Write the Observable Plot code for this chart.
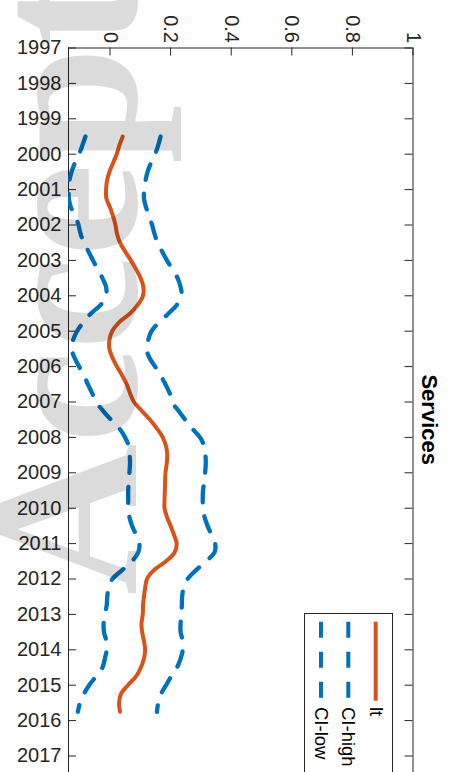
<!DOCTYPE html>
<html>
<head>
<meta charset="utf-8">
<script src="https://cdn.jsdelivr.net/npm/d3@7"></script>
<script src="https://cdn.jsdelivr.net/npm/@observablehq/plot@0.6"></script>
<style>
  html, body { margin: 0; padding: 0; background: #fff; overflow: hidden; }
</style>
</head>
<body>
<div id="chart"></div>
<script>
// ---- data ----
const title = "Services";
const seriesNames = ["lt", "CI-high", "CI-low"];
const yearTicks = [1997, 1998, 1999, 2000, 2001, 2002, 2003, 2004, 2005, 2006, 2007,
                   2008, 2009, 2010, 2011, 2012, 2013, 2014, 2015, 2016, 2017];
const valueTicks = [0, 0.2, 0.4, 0.6, 0.8, 1];
const valueTickLabels = ["0", "0.2", "0.4", "0.6", "0.8", "1"];
const watermarkText = "Accepted Article";

const years = [1999.5, 1999.75,
  2000, 2000.25, 2000.5, 2000.75, 2001, 2001.25, 2001.5, 2001.75,
  2002, 2002.25, 2002.5, 2002.75, 2003, 2003.25, 2003.5, 2003.75,
  2004, 2004.25, 2004.5, 2004.75, 2005, 2005.25, 2005.5, 2005.75,
  2006, 2006.25, 2006.5, 2006.75, 2007, 2007.25, 2007.5, 2007.75,
  2008, 2008.25, 2008.5, 2008.75, 2009, 2009.25, 2009.5, 2009.75,
  2010, 2010.25, 2010.5, 2010.75, 2011, 2011.25, 2011.5, 2011.75,
  2012, 2012.25, 2012.5, 2012.75, 2013, 2013.25, 2013.5, 2013.75,
  2014, 2014.25, 2014.5, 2014.75, 2015, 2015.25, 2015.5, 2015.75];

const lt = [0.042, 0.031,
  0.022, 0.010, -0.002, -0.010, -0.013, -0.012, 0.000, 0.010,
  0.018, 0.023, 0.033, 0.050, 0.069, 0.086, 0.101, 0.110,
  0.109, 0.092, 0.066, 0.030, 0.007, -0.002, -0.002, 0.008,
  0.023, 0.040, 0.055, 0.066, 0.079, 0.105, 0.132, 0.155,
  0.174, 0.185, 0.189, 0.187, 0.183, 0.182, 0.181, 0.180,
  0.180, 0.188, 0.200, 0.211, 0.220, 0.213, 0.185, 0.145,
  0.122, 0.116, 0.112, 0.109, 0.108, 0.104, 0.106, 0.112,
  0.116, 0.112, 0.102, 0.086, 0.059, 0.036, 0.030, 0.033];

const ciHigh = [0.167, 0.159,
  0.149, 0.135, 0.124, 0.117, 0.113, 0.112, 0.119, 0.129,
  0.139, 0.147, 0.157, 0.172, 0.188, 0.206, 0.223, 0.233,
  0.236, 0.221, 0.193, 0.162, 0.137, 0.126, 0.121, 0.130,
  0.149, 0.167, 0.183, 0.197, 0.205, 0.226, 0.248, 0.271,
  0.297, 0.311, 0.315, 0.316, 0.314, 0.311, 0.307, 0.306,
  0.307, 0.312, 0.322, 0.335, 0.347, 0.345, 0.317, 0.284,
  0.256, 0.243, 0.238, 0.237, 0.236, 0.233, 0.233, 0.240,
  0.240, 0.233, 0.221, 0.202, 0.185, 0.168, 0.159, 0.155];

const ciLow = [-0.081, -0.091,
  -0.102, -0.116, -0.127, -0.134, -0.136, -0.136, -0.129, -0.114,
  -0.104, -0.097, -0.086, -0.071, -0.056, -0.041, -0.025, -0.013,
  -0.013, -0.030, -0.063, -0.088, -0.109, -0.122, -0.127, -0.117,
  -0.102, -0.086, -0.073, -0.059, -0.046, -0.023, 0.003, 0.031,
  0.050, 0.062, 0.065, 0.066, 0.064, 0.062, 0.060, 0.060,
  0.060, 0.064, 0.073, 0.086, 0.097, 0.093, 0.072, 0.040,
  0.008, -0.005, -0.009, -0.011, -0.017, -0.021, -0.020, -0.012,
  -0.011, -0.017, -0.025, -0.046, -0.069, -0.086, -0.099, -0.106];

// ---- styling ----
const ORANGE = "#D95319", BLUE = "#0072BD", AX = "#262626", TXT = "#262626";
const XMIN = -0.137, XMAX = 1, YMIN = 1997, YMAX = 2018;
const xRange = [68, 412.5], yRange = [47.5, 790.9];
const pxX = (xRange[1] - xRange[0]) / (XMAX - XMIN);
const pxY = (yRange[1] - yRange[0]) / (YMAX - YMIN);
const tickPx = 8;
const DASH = "16,14";

const rows = years.map((t, i) => ({t, lt: lt[i], hi: ciHigh[i], lo: ciLow[i]}));

const chart = Plot.plot({
  width: 450,
  height: 772,
  marginLeft: 68, marginTop: 47, marginRight: 37, marginBottom: 0,
  axis: null,
  style: {fontFamily: "'Liberation Sans', Arial, Helvetica, sans-serif", background: "#fff"},
  x: {domain: [XMIN, XMAX], range: xRange},
  y: {domain: [YMIN, YMAX], range: yRange},
  marks: [
    // box
    Plot.ruleX([XMIN, XMAX], {y1: YMIN, y2: YMAX, stroke: AX, strokeWidth: 1}),
    Plot.ruleY([YMIN], {x1: XMIN, x2: XMAX, stroke: AX, strokeWidth: 1}),
    // inward ticks
    Plot.ruleY(yearTicks, {x1: XMIN, x2: XMIN + tickPx / pxX, stroke: AX}),
    Plot.ruleY(yearTicks, {x1: XMAX - tickPx / pxX, x2: XMAX, stroke: AX}),
    Plot.ruleX(valueTicks, {y1: YMIN, y2: YMIN + tickPx / pxY, stroke: AX}),
    // series
    Plot.line(rows, {x: "lo", y: "t", stroke: BLUE, strokeWidth: 4.3, strokeDasharray: DASH, curve: "catmull-rom", clip: true}),
    Plot.line(rows, {x: "hi", y: "t", stroke: BLUE, strokeWidth: 4.3, strokeDasharray: DASH, curve: "catmull-rom", clip: true}),
    Plot.line(rows, {x: "lt", y: "t", stroke: ORANGE, strokeWidth: 4, curve: "catmull-rom", clip: true}),
    // tick labels
    Plot.text(yearTicks, {x: XMIN, y: d => d, text: d => String(d), textAnchor: "end", dx: -7, fontSize: 20, fill: TXT}),
    Plot.text(valueTicks, {x: d => d, y: YMIN, text: (d, i) => valueTickLabels[i], rotate: 90, textAnchor: "end", dy: -5, fontSize: 20, fill: TXT}),
    // title
    Plot.text([title], {x: XMAX, y: (YMIN + YMAX) / 2, text: d => d, rotate: 90, dx: 16, fontSize: 22, fontWeight: "bold", fill: "#000"}),
    // watermark
    Plot.text([watermarkText], {x: XMIN, y: 2012.45, text: d => d, rotate: -90, textAnchor: "start", fontSize: 210,
      fontWeight: "bold", fontFamily: "'Liberation Serif', 'Times New Roman', serif", fill: "#000", fillOpacity: 0.14})
  ]
});

// ---- legend (rotated, MATLAB style) ----
const svg = d3.select(chart);
const leg = svg.append("g").attr("class", "legend");
leg.append("rect").attr("x", 304.5).attr("y", 613.5).attr("width", 88).attr("height", 200)
  .attr("fill", "#fff").attr("stroke", AX).attr("stroke-width", 1);
const legX = [375.7, 348.3, 321];
const legColor = [ORANGE, BLUE, BLUE];
const legDash = [null, DASH, DASH];
seriesNames.forEach((name, i) => {
  leg.append("line").attr("x1", legX[i]).attr("x2", legX[i]).attr("y1", 621.7).attr("y2", 700.7)
    .attr("stroke", legColor[i]).attr("stroke-width", 4).attr("stroke-dasharray", legDash[i]);
  leg.append("text").attr("transform", `translate(${legX[i]},707) rotate(90)`)
    .attr("dy", "0.32em").attr("text-anchor", "start").attr("font-size", 18.5)
    .attr("fill", "#000").text(name);
});

document.getElementById("chart").appendChild(chart);
</script>
</body>
</html>
